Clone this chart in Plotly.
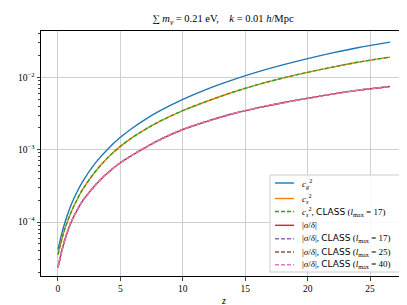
import plotly.graph_objects as go

z = [0, 0.25, 0.5, 1, 1.5, 2, 3, 4, 5, 6, 7, 8, 10, 12, 14, 16, 18, 20, 22, 24, 26.6]

cg2 = [4.15e-5, 6.4e-5, 9.2e-5, 1.64e-4, 2.56e-4, 3.69e-4, 6.56e-4, 1.025e-3, 1.48e-3, 2.01e-3,
       2.62e-3, 3.32e-3, 4.95e-3, 6.93e-3, 9.22e-3, 1.185e-2, 1.48e-2, 1.81e-2, 2.17e-2, 2.56e-2, 3.06e-2]

cs2 = [3.55e-5, 5.3e-5, 7.6e-5, 1.30e-4, 2.0e-4, 2.87e-4, 5.0e-4, 7.8e-4, 1.11e-3, 1.49e-3,
       1.91e-3, 2.39e-3, 3.46e-3, 4.7e-3, 6.2e-3, 7.9e-3, 9.75e-3, 1.17e-2, 1.38e-2, 1.61e-2, 1.9e-2]

sigma = [2.37e-5, 3.65e-5, 5.3e-5, 9.5e-5, 1.43e-4, 1.99e-4, 3.25e-4, 4.8e-4, 6.6e-4, 8.5e-4,
         1.07e-3, 1.33e-3, 1.9e-3, 2.48e-3, 3.13e-3, 3.78e-3, 4.44e-3, 5.12e-3, 5.86e-3, 6.6e-3, 7.44e-3]

SANS = '<span style="font-family:\'DejaVu Sans\'">CLASS</span>'
labels = [
    "<i>c</i><sub><i>g</i></sub><sup>2</sup>",
    "<i>c</i><sub><i>s</i></sub><sup>2</sup>",
    "<i>c</i><sub><i>s</i></sub><sup>2</sup>, " + SANS + " (<i>l</i><sub>max</sub> = 17)",
    "|<i>σ</i>/<i>δ</i>|",
    "|<i>σ</i>/<i>δ</i>|, " + SANS + " (<i>l</i><sub>max</sub> = 17)",
    "|<i>σ</i>/<i>δ</i>|, " + SANS + " (<i>l</i><sub>max</sub> = 25)",
    "|<i>σ</i>/<i>δ</i>|, " + SANS + " (<i>l</i><sub>max</sub> = 40)",
]
values = [cg2, cs2, cs2, sigma, sigma, sigma, sigma]
colors = ["#1f77b4", "#ff7f0e", "#2ca02c", "#d62728", "#9467bd", "#8c564b", "#e377c2"]
dashes = ["solid", "solid", "dash", "solid", "dash", "dash", "dash"]

fig = go.Figure()
for name, ys, col, dash in zip(labels, values, colors, dashes):
    fig.add_trace(go.Scatter(x=z, y=ys, name=name, mode="lines", line_shape="spline", showlegend=False,
                             line=dict(color=col, width=1.4, dash="4px,2px" if dash == "dash" else "solid")))

# plot area in pixels (for placing the hand-built legend)
L, R, T, B = 33, 397, 23, 268
def px(x):
    return (x - L) / (R - L)
def py(y):
    return (B - y) / (B - T)

shapes = [dict(type="rect", xref="paper", yref="paper", x0=px(262), x1=px(394), y0=py(264), y1=py(167),
               line=dict(color="#cccccc", width=1), fillcolor="rgba(255,255,255,0.85)", layer="above")]
annotations = []
row_y = [175, 190.5, 203.5, 217.3, 230.7, 244, 256.7]
for lab, col, dash, yy in zip(labels, colors, dashes, row_y):
    shapes.append(dict(type="line", xref="paper", yref="paper", x0=px(267), x1=px(286), y0=py(yy), y1=py(yy),
                       line=dict(color=col, width=1.4, dash="4px,2px" if dash == "dash" else "solid"),
                       layer="above"))
    annotations.append(dict(text=lab, xref="paper", yref="paper", x=px(292), y=py(yy), xanchor="left",
                            yanchor="middle", showarrow=False, font=dict(size=9)))

annotations.append(dict(text="<i>z</i>", xref="paper", yref="paper", x=px(215), y=py(292),
                        xanchor="center", yanchor="middle", showarrow=False, font=dict(size=10)))

font = dict(family="Liberation Serif, DejaVu Serif, serif", size=10, color="black")

fig.update_layout(
    width=407, height=305,
    margin=dict(l=L, r=407 - R, t=T, b=305 - B),
    paper_bgcolor="white", plot_bgcolor="white",
    font=font,
    title=dict(text="∑ <i>m</i><sub><i>ν</i></sub> = 0.21 eV,    <i>k</i> = 0.01 <i>h</i>/Mpc",
               x=0.528, xanchor="center", y=0.965, yanchor="middle", font=dict(size=10.5)),
    showlegend=False,
    shapes=shapes,
    annotations=annotations,
)
fig.update_xaxes(range=[-1.36, 27.8], tickvals=[0, 5, 10, 15, 20, 25], ticks="outside", ticklen=3.5,
                 showline=True, linecolor="black", linewidth=1, mirror=True,
                 showgrid=True, gridcolor="#cfcfcf", gridwidth=1, zeroline=False,
                 tickfont=dict(size=9.5))
fig.update_yaxes(type="log", range=[-4.745, -1.361], tickvals=[1e-4, 1e-3, 1e-2],
                 ticktext=["10<sup>−4</sup>", "10<sup>−3</sup>", "10<sup>−2</sup>"],
                 ticks="outside", ticklen=3.5,
                 minor=dict(ticks="outside", ticklen=2, dtick="D1", showgrid=False),
                 showline=True, linecolor="black", linewidth=1, mirror=True,
                 showgrid=True, gridcolor="#cfcfcf", gridwidth=1, zeroline=False,
                 tickfont=dict(size=9.5))

fig.write_html("out.html")
